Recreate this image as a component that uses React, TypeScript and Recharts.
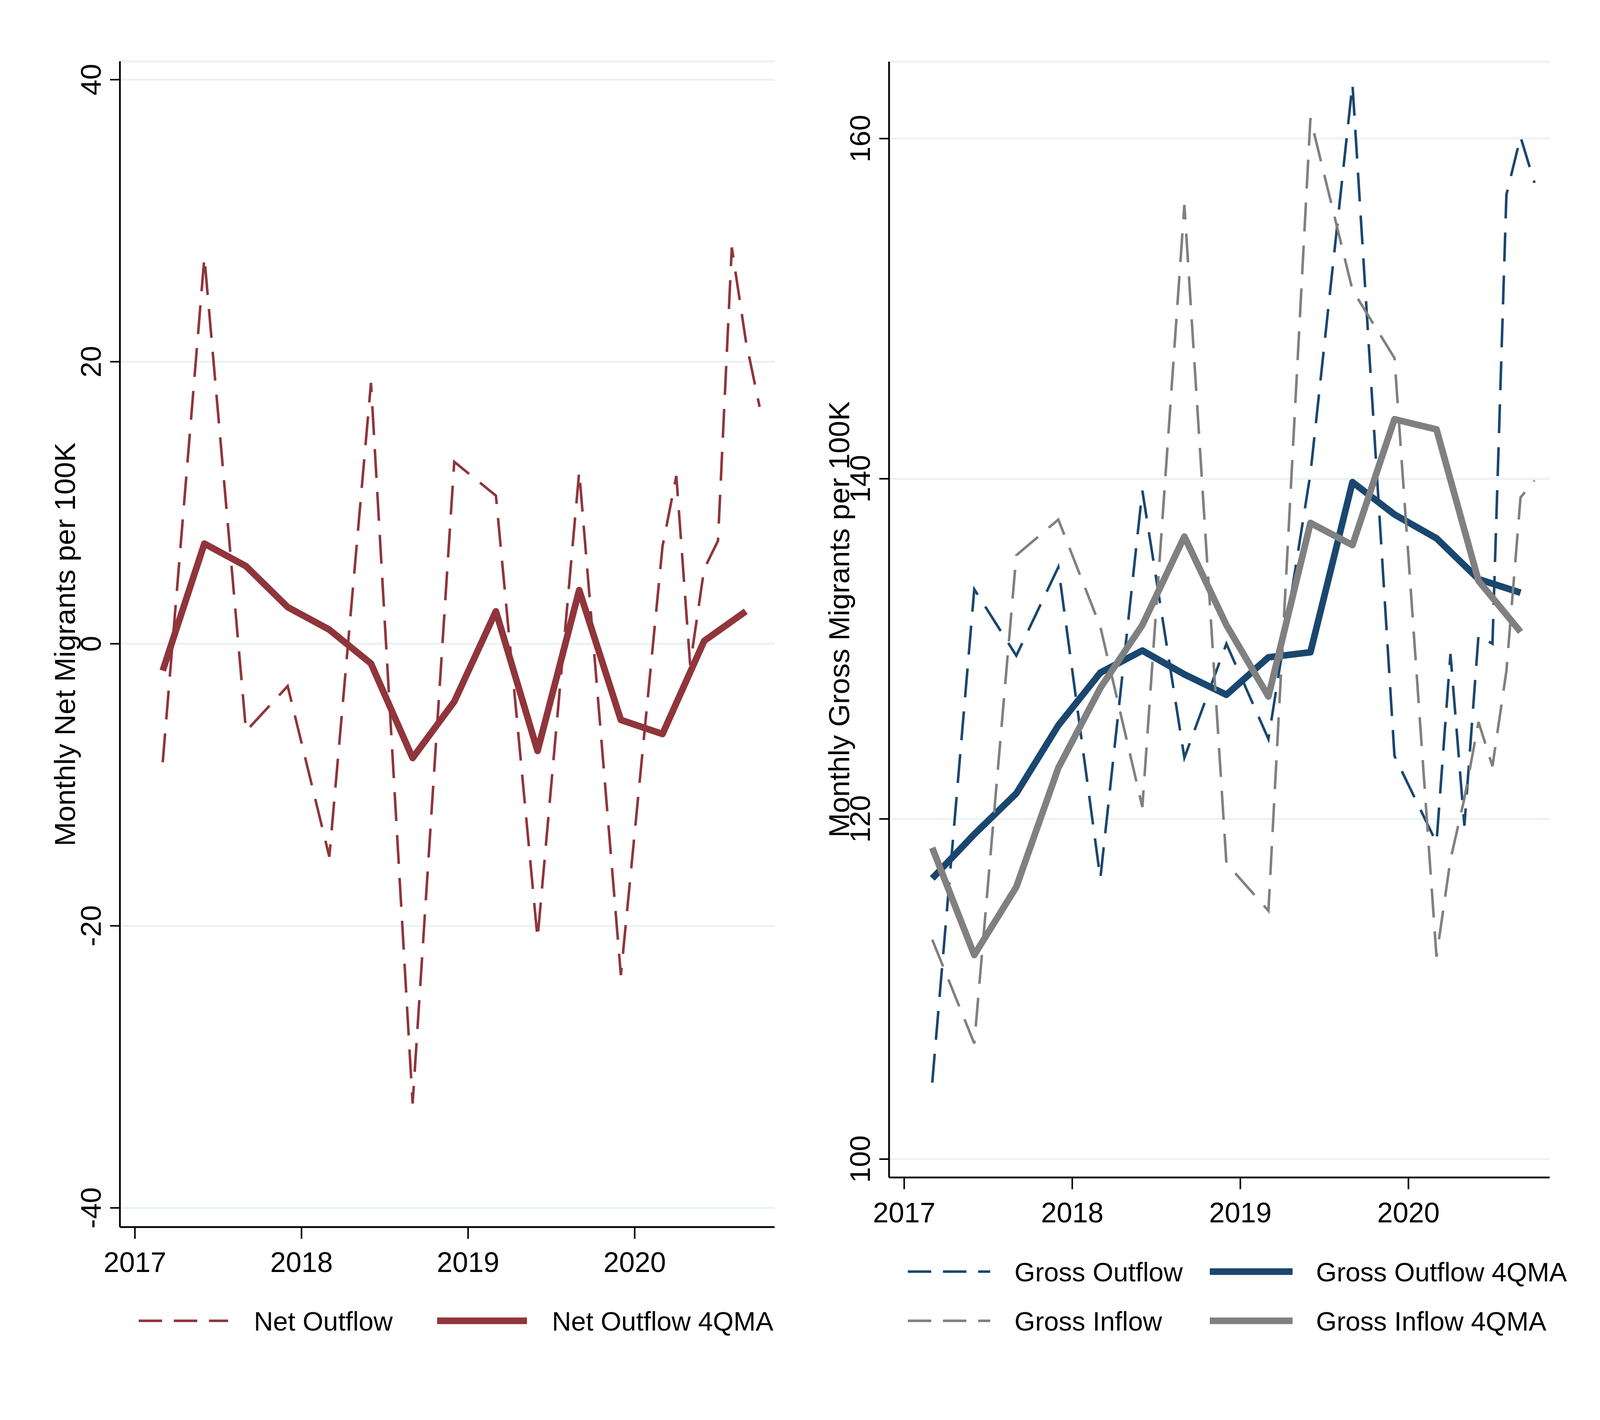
import React from 'react'
import { LineChart, Line, XAxis, YAxis, CartesianGrid, Legend, Label } from 'recharts'

// quarterly points sit on the middle month of the quarter; from 2020 the raw series turns monthly
const rawDates = [
  2017.167, 2017.417, 2017.667, 2017.917, 2018.167, 2018.417, 2018.667, 2018.917,
  2019.167, 2019.417, 2019.667, 2019.917, 2020.167, 2020.25, 2020.333, 2020.417,
  2020.5, 2020.583, 2020.667, 2020.75,
]
const maDates = [
  2017.167, 2017.417, 2017.667, 2017.917, 2018.167, 2018.417, 2018.667, 2018.917,
  2019.167, 2019.417, 2019.667, 2019.917, 2020.167, 2020.417, 2020.667,
]

const netOutflow = [
  -8.4, 27.4, -6.2, -3.0, -15.1, 18.5, -32.6, 12.9, 10.5, -20.9, 12.2, -23.5, 6.9, 11.9,
  -1.5, 5.3, 7.3, 28.1, 21.5, 16.8,
]
const netOutflowMA = [-1.9, 7.1, 5.5, 2.6, 1.0, -1.4, -8.1, -4.1, 2.3, -7.6, 3.8, -5.4, -6.4, 0.2, 2.3]

const grossOutflow = [
  104.5, 133.5, 129.6, 134.8, 116.5, 139.3, 123.6, 130.3, 124.7, 140.3, 163.2, 123.7, 118.6,
  129.7, 119.6, 130.8, 130.3, 156.7, 160.1, 157.4,
]
const grossInflow = [
  112.9, 106.8, 135.5, 137.6, 131.3, 120.7, 156.1, 117.4, 114.6, 161.2, 151.1, 147.1, 111.9,
  117.6, 121.2, 125.7, 123.1, 128.7, 138.9, 139.9,
]
const grossOutflowMA = [
  116.5, 119.1, 121.5, 125.5, 128.6, 129.9, 128.5, 127.3, 129.5, 129.8, 139.8, 137.9, 136.5,
  134.1, 133.3,
]
const grossInflowMA = [
  118.3, 112.0, 116.0, 123.0, 127.7, 131.4, 136.6, 131.4, 127.2, 137.4, 136.1, 143.5, 142.9,
  134.0, 131.0,
]

const yearTicks = [2017, 2018, 2019, 2020]
const netTicks = [-40, -20, 0, 20, 40]
const grossTicks = [100, 120, 140, 160]

const RED = '#90353B'
const NAVY = '#1A476F'
const GRAY = '#808080'
const GRID = '#EAF2F3'
const FONT = '"Liberation Sans", Arial, sans-serif'
const DASH = '74 36'
const KEY_DASH = '60 30'

// the browser window is capped at 4096 px wide, so each panel gets half of that
const PANEL_W = 2048
const PANEL_H = 3636

const toRows = (dates: number[], values: number[]) => dates.map((t, i) => ({ t, v: values[i] }))

const XTick = ({ x, y, payload }: any) => (
  <text x={x} y={y + 52} textAnchor="middle" fontSize={72} fontFamily={FONT} fill="#000">
    {payload.value}
  </text>
)

const YTick = ({ x, y, payload }: any) => (
  <text
    x={x}
    y={y}
    transform={`rotate(-90, ${x}, ${y})`}
    textAnchor="middle"
    fontSize={73}
    fontFamily={FONT}
    fill="#000"
  >
    {payload.value}
  </text>
)

const axisTitle = (text: string, x: number, y: number) => () => (
  <text
    x={x}
    y={y}
    transform={`rotate(-90, ${x}, ${y})`}
    textAnchor="middle"
    fontSize={75}
    fontFamily={FONT}
    fill="#000"
  >
    {text}
  </text>
)

interface KeyItem {
  name: string
  color: string
  dashed: boolean
  x: number
  len: number
  textX: number
  y: number
}

const LegendKeys = ({ items }: { items: KeyItem[] }) => (
  <svg width={PANEL_W} height={400} style={{ display: 'block' }}>
    {items.map((it) => (
      <g key={it.name}>
        <line
          x1={it.x}
          x2={it.x + it.len}
          y1={it.y}
          y2={it.y}
          stroke={it.color}
          strokeWidth={it.dashed ? 6.5 : 17}
          strokeDasharray={it.dashed ? KEY_DASH : undefined}
        />
        <text x={it.textX} y={it.y + 25} fontSize={68} fontFamily={FONT} fill="#000">
          {it.name}
        </text>
      </g>
    ))}
  </svg>
)

const netKeys: KeyItem[] = [
  { name: 'Net Outflow', color: RED, dashed: true, x: 355, len: 229, textX: 650, y: 232 },
  { name: 'Net Outflow 4QMA', color: RED, dashed: false, x: 1119, len: 230, textX: 1413, y: 232 },
]
const grossKeys: KeyItem[] = [
  { name: 'Gross Outflow', color: NAVY, dashed: true, x: 276, len: 211, textX: 549, y: 106 },
  { name: 'Gross Outflow 4QMA', color: NAVY, dashed: false, x: 1049, len: 212, textX: 1321, y: 106 },
  { name: 'Gross Inflow', color: GRAY, dashed: true, x: 276, len: 211, textX: 549, y: 232 },
  { name: 'Gross Inflow 4QMA', color: GRAY, dashed: false, x: 1049, len: 212, textX: 1321, y: 232 },
]

const axisLine = { stroke: '#000', strokeWidth: 4.5 }
const tickLine = { stroke: '#000', strokeWidth: 4 }

export default function App() {
  return (
    <div style={{ position: 'absolute', left: 0, top: 0, width: PANEL_W * 2, height: PANEL_H, background: '#fff' }}>
      <div style={{ position: 'absolute', left: 0, top: 0 }}>
        <LineChart width={PANEL_W} height={PANEL_H} margin={{ top: 157, right: 65, bottom: 394, left: 0 }}>
          <CartesianGrid vertical={false} stroke={GRID} strokeWidth={5} />
          <XAxis
            type="number"
            dataKey="t"
            domain={[2016.91, 2020.84]}
            ticks={yearTicks}
            interval={0}
            allowDataOverflow
            height={100}
            tickSize={30}
            tickMargin={33}
            tick={(p: any) => <XTick {...p} />}
            axisLine={axisLine}
            tickLine={tickLine}
          />
          <YAxis
            type="number"
            domain={[-41.36, 41.3]}
            ticks={netTicks}
            interval={0}
            allowDataOverflow
            width={307}
            tickSize={25}
            tickMargin={24}
            tick={(p: any) => <YTick {...p} />}
            axisLine={axisLine}
            tickLine={tickLine}
          >
            <Label content={axisTitle('Monthly Net Migrants per 100K', 192, 1650)} />
          </YAxis>
          <Legend
            layout="horizontal"
            verticalAlign="middle"
            align="center"
            wrapperStyle={{ left: 0, top: 3150, width: PANEL_W, height: 400 }}
            content={() => <LegendKeys items={netKeys} />}
          />
          <Line
            data={toRows(rawDates, netOutflow)}
            dataKey="v"
            type="linear"
            stroke={RED}
            strokeWidth={6.5}
            strokeDasharray={DASH}
            dot={false}
            isAnimationActive={false}
          />
          <Line
            data={toRows(maDates, netOutflowMA)}
            dataKey="v"
            type="linear"
            stroke={RED}
            strokeWidth={17}
            strokeLinejoin="round"
            dot={false}
            isAnimationActive={false}
          />
        </LineChart>
      </div>
      <div style={{ position: 'absolute', left: PANEL_W, top: 0 }}>
        <LineChart width={PANEL_W} height={PANEL_H} margin={{ top: 158, right: 129, bottom: 521, left: 0 }}>
          <CartesianGrid vertical={false} stroke={GRID} strokeWidth={5} />
          <XAxis
            type="number"
            dataKey="t"
            domain={[2016.91, 2020.84]}
            ticks={yearTicks}
            interval={0}
            allowDataOverflow
            height={100}
            tickSize={30}
            tickMargin={33}
            tick={(p: any) => <XTick {...p} />}
            axisLine={axisLine}
            tickLine={tickLine}
          />
          <YAxis
            type="number"
            domain={[98.92, 164.52]}
            ticks={grossTicks}
            interval={0}
            allowDataOverflow
            width={228}
            tickSize={25}
            tickMargin={24}
            tick={(p: any) => <YTick {...p} />}
            axisLine={axisLine}
            tickLine={tickLine}
          >
            <Label content={axisTitle('Monthly Gross Migrants per 100K', 126, 1586)} />
          </YAxis>
          <Legend
            layout="horizontal"
            verticalAlign="middle"
            align="center"
            wrapperStyle={{ left: 0, top: 3150, width: PANEL_W, height: 400 }}
            content={() => <LegendKeys items={grossKeys} />}
          />
          <Line
            data={toRows(rawDates, grossOutflow)}
            dataKey="v"
            type="linear"
            stroke={NAVY}
            strokeWidth={6.5}
            strokeDasharray={DASH}
            dot={false}
            isAnimationActive={false}
          />
          <Line
            data={toRows(maDates, grossOutflowMA)}
            dataKey="v"
            type="linear"
            stroke={NAVY}
            strokeWidth={17}
            strokeLinejoin="round"
            dot={false}
            isAnimationActive={false}
          />
          <Line
            data={toRows(rawDates, grossInflow)}
            dataKey="v"
            type="linear"
            stroke={GRAY}
            strokeWidth={6.5}
            strokeDasharray={DASH}
            dot={false}
            isAnimationActive={false}
          />
          <Line
            data={toRows(maDates, grossInflowMA)}
            dataKey="v"
            type="linear"
            stroke={GRAY}
            strokeWidth={17}
            strokeLinejoin="round"
            dot={false}
            isAnimationActive={false}
          />
        </LineChart>
      </div>
    </div>
  )
}
